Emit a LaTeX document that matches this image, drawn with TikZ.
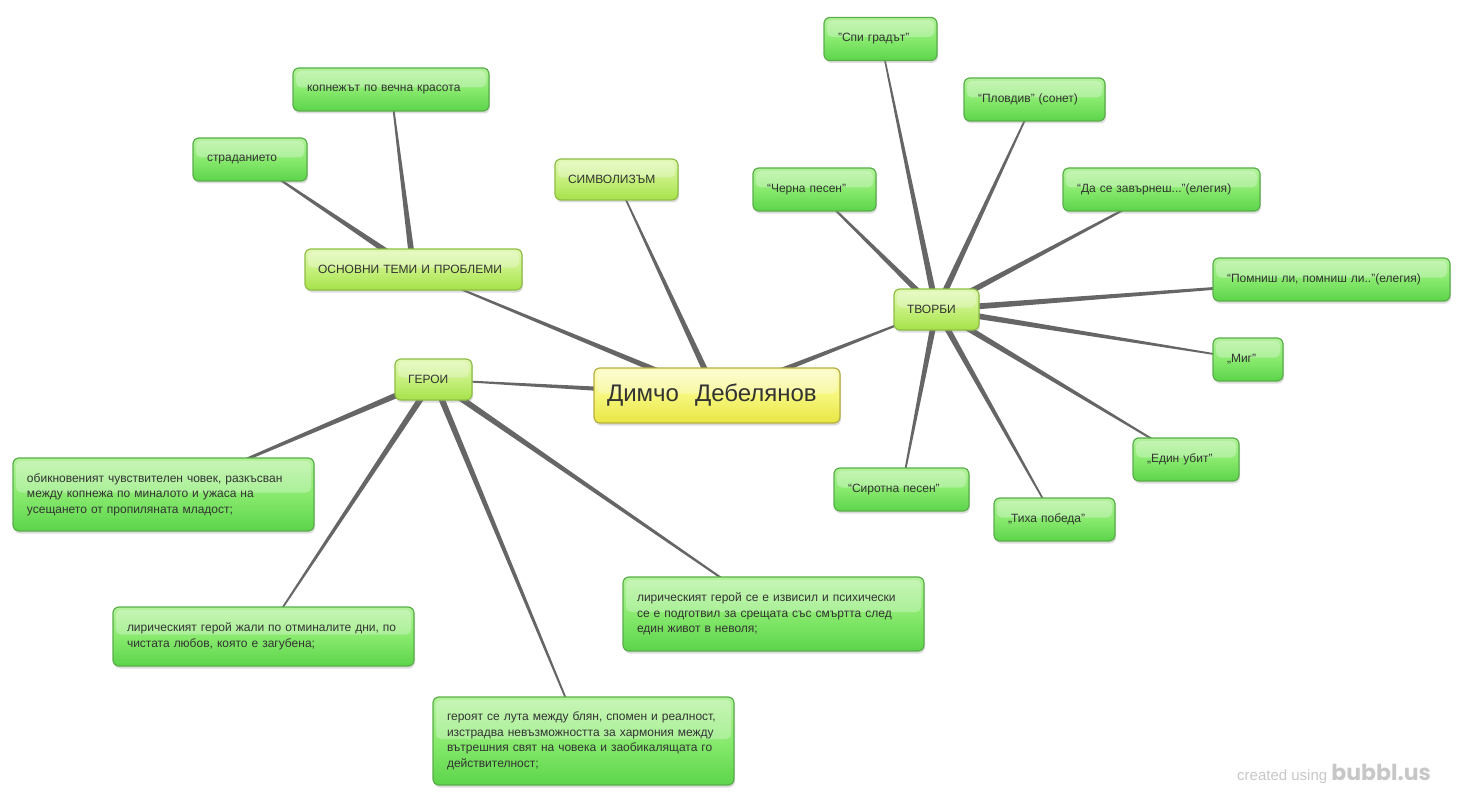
\documentclass[tikz,border=0pt]{standalone}
\usepackage{fontspec}
\setmainfont{Liberation Sans}
\newfontfamily\logofont{Poppins}
\usepackage{tikz}
\usetikzlibrary{positioning,calc,shadows,backgrounds}
\definecolor{linkgray}{HTML}{666666}
\definecolor{inkgray}{HTML}{333333}
\definecolor{leaftop}{HTML}{B4F29C}
\definecolor{leafmid}{HTML}{88EA6E}
\definecolor{leafbot}{HTML}{5CD44A}
\definecolor{leafline}{HTML}{58AE48}
\definecolor{midtop}{HTML}{E2F8B6}
\definecolor{midmid}{HTML}{C6F07E}
\definecolor{midbot}{HTML}{A6E24A}
\definecolor{midline}{HTML}{8EBE44}
\definecolor{roottop}{HTML}{FCFCC4}
\definecolor{rootmid}{HTML}{F6F67C}
\definecolor{rootbot}{HTML}{E8E644}
\definecolor{rootline}{HTML}{B6AE42}
% tapered connector, thick at the parent end
\newcommand{\branch}[2]{%
  \fill[linkgray] ($(#1)!3.2pt!90:(#2)$) -- ($(#2)!0.6pt!-90:(#1)$)
    -- ($(#2)!0.6pt!90:(#1)$) -- ($(#1)!3.2pt!-90:(#2)$) -- cycle;}

\begin{document}
\begin{tikzpicture}[x=1pt,y=-1pt,
    box/.style={rounded corners=6pt, draw, line width=1.2pt, inner xsep=14pt,
      inner ysep=0pt, align=left, text=inkgray,
      font=\fontsize{12}{15.5}\selectfont,
      drop shadow={opacity=0.28, shadow xshift=1pt, shadow yshift=-2.5pt},
      path picture={\fill[white, opacity=0.28, rounded corners=5pt]
        ([xshift=3pt,yshift=-3pt]path picture bounding box.north west)
        rectangle ([xshift=-3pt,yshift=2pt]path picture bounding box.east);}},
    leaf/.style={box, draw=leafline, top color=leaftop, bottom color=leafbot,
      middle color=leafmid, minimum height=43pt},
    topic/.style={box, draw=midline, top color=midtop, bottom color=midbot,
      middle color=midmid, minimum height=41pt, inner xsep=13pt},
    root/.style={box, draw=rootline, top color=roottop, bottom color=rootbot,
      middle color=rootmid, minimum height=55pt, inner xsep=13pt,
      font=\fontsize{24}{27}\selectfont}]
    \useasboundingbox (0,0) rectangle (1460,797);

    % Root
    \node[root, text width=220pt] (root) at (717,395.5) {Димчо\ \ Дебелянов};

    % Main topics
    \node[topic, text width=191pt] (topics) at (413.5,269.5) {ОСНОВНИ ТЕМИ И ПРОБЛЕМИ};
    \node[topic, text width=97pt] (symb) at (616.5,179.5) {СИМВОЛИЗЪМ};
    \node[topic, text width=59pt] (works) at (936.5,309.5) {ТВОРБИ};
    \node[topic, text width=51pt] (heroes) at (433.5,379.5) {ГЕРОИ};

    % Themes
    \node[leaf, text width=168pt] (longing) at (391,89.5) {копнежът по вечна красота};
    \node[leaf, text width=86pt] (suffering) at (250,159.5) {страданието};

    % Works
    \node[leaf, text width=85pt] (spi) at (880.5,39) {"Спи градът"};
    \node[leaf, text width=113pt] (plovdiv) at (1034.5,99.5) {“Пловдив” (сонет)};
    \node[leaf, text width=95pt] (cherna) at (814.5,189.5) {“Черна песен”};
    \node[leaf, text width=169pt] (zavarnesh) at (1161.5,189.5) {“Да се завърнеш...”(елегия)};
    \node[leaf, text width=209pt] (pomnish) at (1331.5,279.5) {“Помниш ли, помниш ли..”(елегия)};
    \node[leaf, text width=42pt] (mig) at (1248,359.5) {„Миг”};
    \node[leaf, text width=78pt] (edin) at (1186,459.5) {„Един убит”};
    \node[leaf, text width=93pt] (tiha) at (1054.5,519.5) {„Тиха победа”};
    \node[leaf, text width=107pt] (sirotna) at (901.5,489.5) {“Сиротна песен”};

    % Heroes
    \node[leaf, text width=273pt, minimum height=73pt] (ordinary) at (163.5,494.5)
      {обикновеният чувствителен човек, разкъсван\\между копнежа по миналото и ужаса на\\усещането от пропиляната младост;};
    \node[leaf, text width=273pt, minimum height=59pt] (mourns) at (263.5,636.5)
      {лирическият герой жали по отминалите дни, по\\чистата любов, която е загубена;};
    \node[leaf, text width=273pt, minimum height=74pt] (rises) at (773.5,614)
      {лирическият герой се е извисил и психически\\се е подготвил за срещата със смъртта след\\един живот в неволя;};
    \node[leaf, text width=273pt, minimum height=88pt] (wanders) at (583.5,741)
      {героят се лута между блян, спомен и реалност,\\изстрадва невъзможността за хармония между\\вътрешния свят на човека и заобикалящата го\\действителност;};

    % Credit
    \node[anchor=west, inner sep=0pt, text=black!22, font=\fontsize{15}{16}\selectfont] (credit) at (1237,774)
      {created using {\logofont\bfseries\fontsize{22}{22}\selectfont bubbl.us}};

    % Links
    \begin{scope}[on background layer]
      \branch{root}{topics}
      \branch{root}{symb}
      \branch{root}{works}
      \branch{root}{heroes}
      \branch{topics}{longing}
      \branch{topics}{suffering}
      \foreach \w in {spi,plovdiv,cherna,zavarnesh,pomnish,mig,edin,tiha,sirotna}
        {\branch{works}{\w}}
      \foreach \h in {ordinary,mourns,rises,wanders}
        {\branch{heroes}{\h}}
    \end{scope}
\end{tikzpicture}
\end{document}
